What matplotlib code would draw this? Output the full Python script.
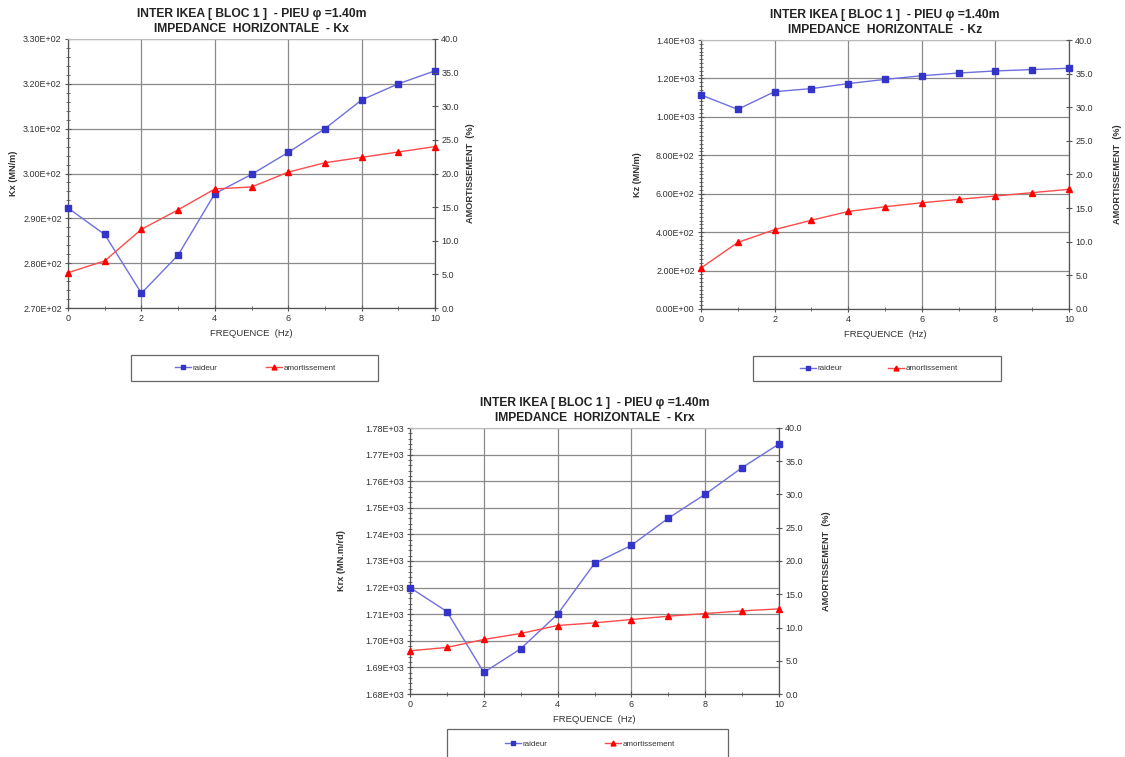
import matplotlib
matplotlib.use("Agg")
import matplotlib.pyplot as plt
from matplotlib.ticker import MultipleLocator, FuncFormatter
from matplotlib.lines import Line2D
from matplotlib.patches import Rectangle

plt.rcParams['font.family'] = ['Liberation Sans', 'DejaVu Sans']

freq = [0, 1, 2, 3, 4, 5, 6, 7, 8, 9, 10]

kx_raideur = [292.3, 286.4, 273.3, 281.8, 295.5, 299.8, 304.7, 310.0, 316.4, 320.0, 322.9]
kx_amort = [5.25, 7.0, 11.7, 14.6, 17.7, 18.0, 20.2, 21.6, 22.4, 23.2, 24.0]

kz_raideur = [1114, 1039, 1131, 1147, 1173, 1195, 1214, 1228, 1239, 1246, 1253]
kz_amort = [6.1, 9.9, 11.8, 13.2, 14.5, 15.2, 15.8, 16.3, 16.8, 17.3, 17.8]

krx_raideur = [1720.0, 1711.0, 1688.1, 1697.0, 1710.0, 1729.1, 1735.9, 1746.1, 1755.1, 1765.1, 1774.0]
krx_amort = [6.5, 7.0, 8.2, 9.1, 10.3, 10.7, 11.2, 11.7, 12.1, 12.5, 12.8]

title_line1 = "INTER IKEA [ BLOC 1 ]  - PIEU φ =1.40m"
titles = ["IMPEDANCE  HORIZONTALE  - Kx", "IMPEDANCE  HORIZONTALE  - Kz", "IMPEDANCE  HORIZONTALE  - Krx"]
ylabels = ["Kx (MN/m)", "Kz (MN/m)", "Krx (MN.m/rd)"]
xlabel = "FREQUENCE  (Hz)"
ylabel_right = "AMORTISSEMENT  (%)"
legend_labels = ["raideur", "amortissement"]

W, H = 1125, 757
fig = plt.figure(figsize=(W / 100, H / 100), dpi=100)
fig.patch.set_facecolor('white')

BLUE_LINE = '#6f6fe0'
BLUE_MK = '#3434c8'
RED_LINE = '#ff4a4a'
RED_MK = '#ff0000'
GRID = '#8a8a8a'
TXT = '#333333'


def px_axes(l, r, t, b):
    return fig.add_axes([l / W, 1 - b / H, (r - l) / W, (b - t) / H])


def make_chart(box, raideur, amort, ylim, ymajor, yminor, title2, ylab, ylab_x, yr_x,
               leg_box, leg_inner):
    l, r, t, b = box
    ax = px_axes(*box)
    ax.set_xlim(0, 10)
    ax.set_ylim(*ylim)
    ax.xaxis.set_major_locator(MultipleLocator(2))
    ax.xaxis.set_minor_locator(MultipleLocator(1))
    ax.yaxis.set_major_locator(MultipleLocator(ymajor))
    ax.yaxis.set_minor_locator(MultipleLocator(yminor))
    ax.yaxis.set_major_formatter(FuncFormatter(lambda v, p: f"{v:.2E}"))
    ax.grid(True, which='major', color=GRID, linewidth=0.9)
    ax.set_axisbelow(True)
    ax.tick_params(axis='both', which='major', direction='inout', length=5, width=0.8,
                   labelsize=6.5, colors='#555555', labelcolor=TXT, pad=2)
    ax.tick_params(axis='both', which='minor', direction='inout', length=3, width=0.6,
                   colors='#555555')
    for s in ['left', 'bottom', 'right']:
        ax.spines[s].set_color('#555555')
        ax.spines[s].set_linewidth(0.9)
    ax.spines['top'].set_color('#bbbbbb')
    ax.set_xlabel(xlabel, fontsize=6.8, color=TXT, labelpad=4)
    ax.set_ylabel(ylab, fontsize=6.6, fontweight='bold', color=TXT)
    ax.yaxis.set_label_coords((ylab_x + 4 - l) / (r - l), 0.5)
    ax.set_title(title_line1 + "\n" + title2, fontsize=8.7, fontweight='bold',
                 color='#222222', pad=5, linespacing=1.3)

    ax2 = ax.twinx()
    ax2.set_ylim(0, 40)
    ax2.yaxis.set_major_locator(MultipleLocator(5))
    ax2.yaxis.set_major_formatter(FuncFormatter(lambda v, p: f"{v:.1f}"))
    ax2.tick_params(axis='y', which='major', direction='inout', length=5, width=0.8,
                    labelsize=6.5, colors='#555555', labelcolor=TXT, pad=2)
    for s in ax2.spines.values():
        s.set_visible(False)
    ax2.set_ylabel(ylabel_right, fontsize=6.6, fontweight='bold', color=TXT)
    ax2.yaxis.set_label_coords((yr_x - 4 - l) / (r - l), 0.5)

    ax.plot(freq, raideur, color=BLUE_LINE, linewidth=1.0, marker='s',
            markersize=4.2, markerfacecolor=BLUE_MK, markeredgecolor=BLUE_MK,
            clip_on=False, zorder=3)
    ax2.plot(freq, amort, color=RED_LINE, linewidth=1.0, marker='^',
             markersize=4.0, markerfacecolor=RED_MK, markeredgecolor=RED_MK,
             clip_on=False, zorder=3)

    # legend frame
    lx0, lx1, ly0, ly1 = leg_box
    fig.patches.append(Rectangle((lx0 / W, 1 - ly1 / H), (lx1 - lx0) / W, (ly1 - ly0) / H,
                                 transform=fig.transFigure, facecolor='white',
                                 edgecolor='#666666', linewidth=0.9, zorder=0))
    ix0, ix1, yc = leg_inner
    h1 = Line2D([], [], color=BLUE_LINE, linewidth=1.0, marker='s', markersize=3.5,
                markerfacecolor=BLUE_MK, markeredgecolor=BLUE_MK)
    h2 = Line2D([], [], color=RED_LINE, linewidth=1.0, marker='^', markersize=3.5,
                markerfacecolor=RED_MK, markeredgecolor=RED_MK)
    fig.legend([h1, h2], legend_labels, loc='center', ncol=2, mode='expand',
               bbox_to_anchor=(ix0 / W, 1 - (yc + 6) / H, (ix1 - ix0) / W, 12 / H),
               frameon=False, fontsize=5.8, handlelength=2.0, handletextpad=0.2,
               borderpad=0, borderaxespad=0, labelcolor=TXT)
    return ax, ax2


make_chart((68, 435, 39, 308), kx_raideur, kx_amort, (270, 330), 10, 2,
           titles[0], ylabels[0], 14, 470, (131, 378, 355, 381), (175, 336, 368))
make_chart((701, 1069, 40, 309), kz_raideur, kz_amort, (0, 1400), 200, 20,
           titles[1], ylabels[1], 638, 1117, (753, 1001, 356, 381), (800, 958, 368.5))
make_chart((410, 779, 428, 694), krx_raideur, krx_amort, (1680, 1780), 10, 2,
           titles[2], ylabels[2], 342, 826, (447, 728, 729, 770), (505, 675, 744))

fig.savefig("out.png", dpi=100, facecolor='white')
